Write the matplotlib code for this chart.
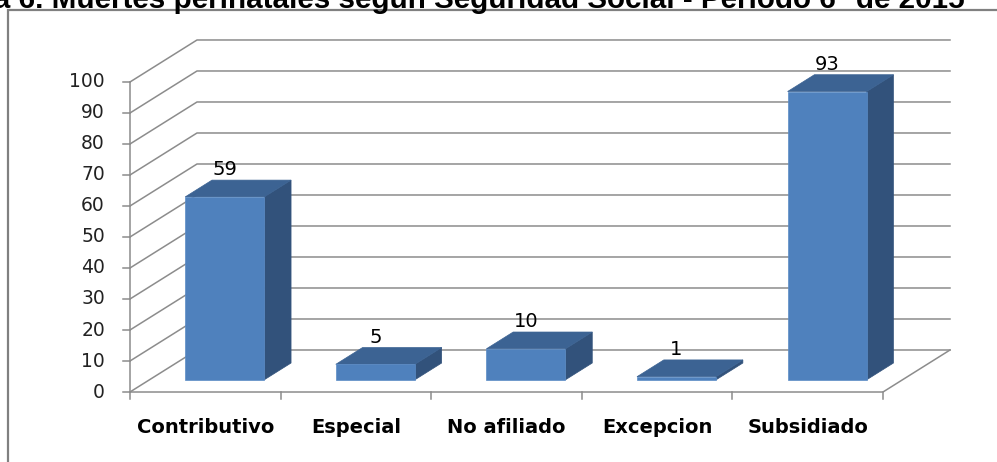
"""
Muertes perinatales según seguridad social - barras estilo 3D
"""
import matplotlib
matplotlib.use("Agg")
import matplotlib.pyplot as plt
from matplotlib.patches import Rectangle

plt.rcParams["font.family"] = ["DejaVu Sans"]

# datos
categorias = ["Contributivo", "Especial", "No afiliado", "Excepcion", "Subsidiado"]
muertes = [59, 5, 10, 1, 93]
ticks_y = list(range(0, 101, 10))
titulo = "Gráfica 6. Muertes perinatales según Seguridad Social - Periodo 6° de 2015"

# geometría del efecto 3D (en unidades de datos)
PROF_X = 0.445     # desplazamiento de profundidad en x (categorías)
PROF_Y = 13.55     # desplazamiento de profundidad en y (valores)
F0, F1 = 0.29, 0.69  # posición frontal / trasera de la barra en la profundidad
ANCHO = 0.525

C_FRENTE = "#4F81BD"
C_LADO = "#32527B"
C_TOPE = "#3C6393"
C_GRID = "#8C8C8C"

fig = plt.figure(figsize=(9.97, 4.62), dpi=100)
ax = fig.add_axes([0, 0, 1, 1])
ax.set_xlim(-0.863, 5.757)
ax.set_ylim(-22.58, 126.45)
ax.axis("off")

n = len(categorias)

# paredes: líneas de la cuadrícula
for t in ticks_y:
    ax.plot([0, PROF_X, n + PROF_X], [t, t + PROF_Y, t + PROF_Y], color=C_GRID, lw=1.1, zorder=1)
    ax.plot([-0.046, 0], [t, t], color=C_GRID, lw=1.1, zorder=1)
    ax.text(-0.166, t, str(t), ha="right", va="center", fontsize=13.5, color="#222222")

# piso y eje vertical
ax.plot([0, n, n + PROF_X], [0, 0, PROF_Y], color=C_GRID, lw=1.1, zorder=1)
ax.plot([0, 0], [0, ticks_y[-1]], color=C_GRID, lw=1.1, zorder=1)
for i in range(n + 1):
    ax.plot([i, i], [0, -2.3], color=C_GRID, lw=1.1, zorder=1)

# barras
for i, (cat, v) in enumerate(zip(categorias, muertes)):
    cx = i + 0.5
    x0 = cx - ANCHO / 2 + F0 * PROF_X
    x1 = cx + ANCHO / 2 + F0 * PROF_X
    y0 = F0 * PROF_Y
    dx = (F1 - F0) * PROF_X
    dy = (F1 - F0) * PROF_Y
    # lado derecho
    ax.fill([x1, x1 + dx, x1 + dx, x1], [y0, y0 + dy, y0 + v + dy, y0 + v],
            color=C_LADO, ec=C_LADO, lw=0.5, zorder=3)
    # tope
    ax.fill([x0, x1, x1 + dx, x0 + dx], [y0 + v, y0 + v, y0 + v + dy, y0 + v + dy],
            color=C_TOPE, ec=C_TOPE, lw=0.5, zorder=3)
    # frente
    ax.fill([x0, x1, x1, x0], [y0, y0, y0 + v, y0 + v],
            color=C_FRENTE, ec="#5B8CC6", lw=0.5, zorder=4)
    ax.text(cx + F0 * PROF_X, y0 + v + dy + 0.2, str(v), ha="center", va="bottom",
            fontsize=14, color="black", zorder=5)
    ax.text(cx, -11.6, cat, ha="center", va="center", fontsize=14, fontweight="bold",
            color="black")

# marco del gráfico
fig.patches.append(Rectangle((8 / 997, -0.1), 1.2, 1 - 10 / 462 + 0.1,
                             transform=fig.transFigure, fill=False,
                             ec="#808080", lw=1.6))

# título (recortado en el borde superior, como en el original)
fig.text(965 / 997, 1 - 8 / 462, titulo, ha="right", va="baseline",
         fontsize=21.3, fontweight="bold", family=["Liberation Sans", "DejaVu Sans"])

fig.savefig("out.png", dpi=100)
